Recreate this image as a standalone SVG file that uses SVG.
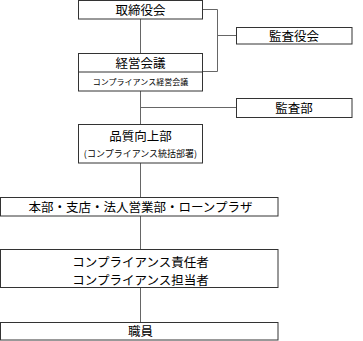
<svg xmlns="http://www.w3.org/2000/svg" width="363" height="341" viewBox="0 0 363 341">
<style>
.box{fill:#fff;stroke:#333;stroke-width:1}
.ln{fill:none;stroke:#666;stroke-width:1}
text{font-family:"Noto Sans CJK JP",sans-serif;fill:#000;text-anchor:middle}
.t{font-size:12.5px}
.s{font-size:8px}
.m{font-size:9px}
</style>
<rect width="363" height="341" fill="#fff"/>
<g id="connectors">
<path class="ln" d="M140.5 19 V53"/>
<path class="ln" d="M203 9.5 H217.5 V71.5 H203"/>
<path class="ln" d="M217.5 35.5 H236"/>
<path class="ln" d="M140.5 91 V124"/>
<path class="ln" d="M140.5 107.5 H236"/>
<path class="ln" d="M140.5 163 V197"/>
<path class="ln" d="M140.5 216 V249"/>
<path class="ln" d="M140.5 288 V322"/>
</g>
<g id="n1"><rect class="box" x="78.5" y="0.5" width="124" height="18.5"/><text class="t" x="140.5" y="14.5">取締役会</text></g>
<g id="n2"><rect class="box" x="236.5" y="27.5" width="115.5" height="16.5"/><text class="t" x="294" y="40.5">監査役会</text></g>
<g id="n3"><rect class="box" x="78.5" y="53.5" width="124" height="37.5"/><line class="box" x1="78.5" y1="72" x2="202.5" y2="72"/><text class="t" x="140.5" y="67.5">経営会議</text><text class="s" x="140.5" y="85">コンプライアンス経営会議</text></g>
<g id="n4"><rect class="box" x="236.5" y="98.5" width="115.5" height="19"/><text class="t" x="294" y="112.5">監査部</text></g>
<g id="n5"><rect class="box" x="78.5" y="124.5" width="124" height="38.5"/><text class="t" x="140.5" y="141">品質向上部</text><text class="m" x="140.5" y="157">(コンプライアンス統括部署)</text></g>
<g id="n6"><rect class="box" x="0.5" y="197.5" width="277.5" height="18.5"/><text class="t" x="140.5" y="211.5">本部・支店・法人営業部・ローンプラザ</text></g>
<g id="n7"><rect class="box" x="0.5" y="249.5" width="277.5" height="38"/><text class="t" x="140.5" y="266.5">コンプライアンス責任者</text><text class="t" x="140.5" y="284.5">コンプライアンス担当者</text></g>
<g id="n8"><rect class="box" x="0.5" y="322.5" width="277.5" height="17.5"/><text class="t" x="140.5" y="336">職員</text></g>
</svg>
